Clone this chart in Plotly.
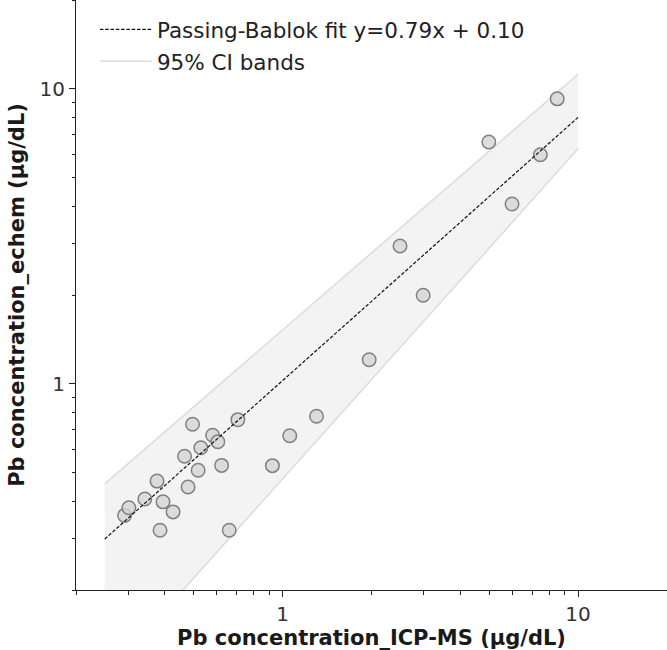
import plotly.graph_objects as go

# Measured data (ICP-MS vs echem), µg/dL
icpms = [0.292, 0.302, 0.342, 0.376, 0.385, 0.394, 0.426, 0.466, 0.479, 0.496,
         0.518, 0.529, 0.580, 0.604, 0.622, 0.660, 0.706, 0.924, 1.058, 1.303,
         1.964, 2.498, 2.991, 4.990, 5.978, 7.455, 8.500]
echem = [0.358, 0.380, 0.407, 0.468, 0.319, 0.398, 0.368, 0.568, 0.447, 0.729,
         0.509, 0.607, 0.669, 0.636, 0.529, 0.319, 0.756, 0.528, 0.667, 0.776,
         1.207, 2.931, 1.997, 6.602, 4.070, 5.976, 9.247]

# Passing-Bablok fit line (end points)
fit_label = "Passing-Bablok fit y=0.79x + 0.10"
fit_x = [0.25, 10.0]
fit_y = [0.2975, 8.0]

# 95% CI band edges
band_x = [0.25, 0.5, 1.0, 2.0, 5.0, 10.0]
band_upper = [0.458, 0.836, 1.52, 2.78, 6.15, 11.2]
band_lower = [0.101, 0.219, 0.475, 1.03, 2.88, 6.27]
band_label = "95% CI bands"

x_title = "Pb concentration_ICP-MS (µg/dL)"
y_title = "Pb concentration_echem (µg/dL)"
major_ticks = [1, 10]
minor_ticks = [0.2, 0.3, 0.4, 0.5, 0.6, 0.7, 0.8, 0.9, 2, 3, 4, 5, 6, 7, 8, 9, 20]

band_edge = "#dcdcdc"
band_fill = "rgba(235,235,235,0.6)"

fig = go.Figure()

fig.add_trace(go.Scatter(
    x=band_x, y=band_lower, mode="lines",
    line=dict(color=band_edge, width=1.5),
    showlegend=False, hoverinfo="skip"))
fig.add_trace(go.Scatter(
    x=band_x, y=band_upper, mode="lines",
    line=dict(color=band_edge, width=1.5),
    fill="tonexty", fillcolor=band_fill,
    showlegend=False, hoverinfo="skip"))
# legend entry for the CI bands (line only, as in the reference)
fig.add_trace(go.Scatter(
    x=[None], y=[None], mode="lines",
    line=dict(color=band_edge, width=1.5),
    name=band_label, legendrank=2, legendgroup="b"))

fig.add_trace(go.Scatter(
    x=icpms, y=echem, mode="markers",
    marker=dict(size=13.5, color="rgba(212,212,214,0.8)",
                line=dict(color="#808080", width=1.5)),
    showlegend=False))

fig.add_trace(go.Scatter(
    x=fit_x, y=fit_y, mode="lines",
    line=dict(color="#111111", width=1.2, dash="3.5px,1.8px"),
    name=fit_label, legendrank=1, legendgroup="a"))

font_family = "DejaVu Sans"
axis_common = dict(
    type="log", automargin=False,
    showgrid=False, zeroline=False,
    showline=True, linecolor="#222222", linewidth=1,
    ticks="outside", ticklen=6, tickwidth=1, tickcolor="#222222",
    tickvals=major_ticks, ticktext=[str(v) for v in major_ticks],
    tickfont=dict(family=font_family, size=20, color="#333333"),
    minor=dict(tickvals=minor_ticks, ticks="outside", ticklen=3.5,
               tickwidth=0.8, tickcolor="#222222", showgrid=False),
)

fig.update_layout(
    width=667, height=650,
    margin=dict(l=76, r=0, t=0, b=60),
    paper_bgcolor="white", plot_bgcolor="white",
    font=dict(family=font_family, color="#222222"),
    showlegend=True,
    legend=dict(x=0.032, y=0.985, xanchor="left", yanchor="top",
                bgcolor="rgba(0,0,0,0)", borderwidth=0,
                font=dict(family=font_family, size=21.5, color="#222222"),
                itemwidth=52, tracegroupgap=1),
)
fig.update_xaxes(**axis_common, range=[-0.69897, 1.30103],
                 title=dict(text="<b>" + x_title + "</b>",
                            font=dict(family=font_family, size=21, color="#1a1a1a"),
                            standoff=2))
fig.update_yaxes(**axis_common, range=[-0.69897, 1.30103],
                 title=dict(text="<b>" + y_title + "</b>",
                            font=dict(family=font_family, size=21, color="#1a1a1a"),
                            standoff=9))

fig.write_html("out.html", config={"displayModeBar": False},
               post_script="document.body.style.margin='0px';")
